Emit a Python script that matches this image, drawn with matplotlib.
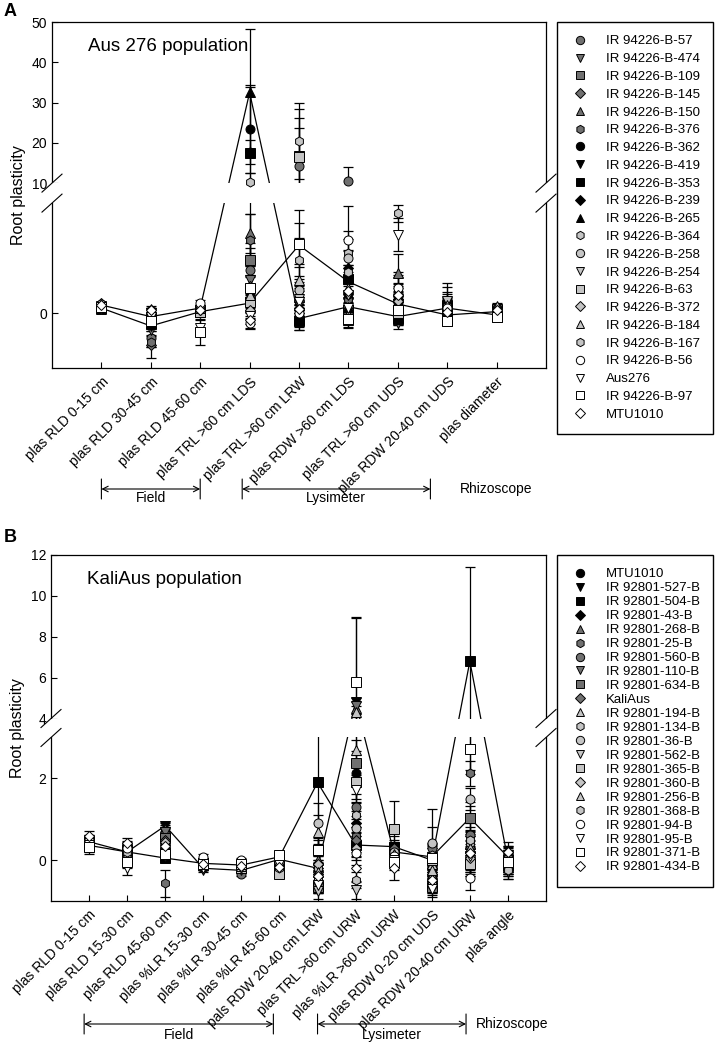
import numpy as np
import matplotlib
matplotlib.use("Agg")
import matplotlib.pyplot as plt
from matplotlib.lines import Line2D
from matplotlib.patches import Rectangle
from matplotlib.transforms import blended_transform_factory

plt.rcParams["font.family"] = ["Liberation Sans", "DejaVu Sans"]

DARK, LIGHT = "#707070", "#c4c4c4"

# ---------------- panel A : Aus 276 population ----------------
a_traits = ["plas RLD 0-15 cm", "plas RLD 30-45 cm", "plas RLD 45-60 cm",
            "plas TRL >60 cm LDS", "plas TRL >60 cm LRW", "plas RDW >60 cm LDS",
            "plas TRL >60 cm UDS", "plas RDW 20-40 cm UDS", "plas diameter"]
a_names = ["IR 94226-B-57", "IR 94226-B-474", "IR 94226-B-109", "IR 94226-B-145",
           "IR 94226-B-150", "IR 94226-B-376", "IR 94226-B-362", "IR 94226-B-419",
           "IR 94226-B-353", "IR 94226-B-239", "IR 94226-B-265", "IR 94226-B-364",
           "IR 94226-B-258", "IR 94226-B-254", "IR 94226-B-63", "IR 94226-B-372",
           "IR 94226-B-184", "IR 94226-B-167", "IR 94226-B-56", "Aus276",
           "IR 94226-B-97", "MTU1010"]
a_markers = ["o", "v", "s", "D", "^", "h", "o", "v", "s", "D", "^",
             "h", "o", "v", "s", "D", "^", "h", "o", "v", "s", "D"]
a_colors = [DARK] * 6 + ["black"] * 5 + [LIGHT] * 7 + ["white"] * 4
a_lines = ["IR 94226-B-265", "IR 94226-B-419"]

# one row per trait, one value per genotype (same order as a_names)
a_mean = [
    [0.30, 0.25, 0.20, 0.35, 0.15, 0.30, 0.25, 0.18, 0.20, 0.28, 0.29,
     0.22, 0.32, 0.18, 0.20, 0.25, 0.30, 0.27, 0.20, 0.15, 0.22, 0.30],
    [-0.90, -0.60, -0.30, -1.15, -0.20, -1.05, -0.35, -0.47, -0.40, -0.25, -0.13,
     0.10, -0.10, 0.00, -0.30, -0.20, 0.15, 0.05, 0.00, -0.15, -0.30, 0.10],
    [0.10, 0.00, 0.05, 0.10, 0.15, 0.00, 0.10, 0.05, 0.08, 0.12, 0.18,
     0.20, 0.15, 0.10, 0.05, 0.10, 0.20, 0.15, 0.36, -0.55, -0.68, 0.10],
    [1.56, 1.20, 1.93, 1.00, 2.90, 2.65, 23.5, 0.36, 17.4, 17.8, 32.5,
     0.30, 0.50, 0.20, 0.40, 0.10, 0.65, 10.3, -0.37, -0.10, 0.90, -0.25],
    [14.3, 0.30, 16.8, 0.10, 0.60, 0.00, -0.10, 2.47, -0.30, -0.25, -0.20,
     20.5, 0.84, 0.50, 16.6, 0.20, 1.20, 1.93, 0.00, 0.40, 2.50, 0.15],
    [10.4, 0.40, 0.10, 0.00, 0.30, 0.50, 0.70, 1.14, 1.25, 1.64, 0.23,
     2.20, 2.00, 0.65, -0.25, -0.10, 0.90, 1.50, 2.65, 0.20, -0.20, 0.80],
    [0.20, -0.38, 0.10, 0.00, 1.45, 0.60, 0.40, 0.33, -0.20, 0.50, -0.13,
     0.90, 0.70, 0.30, 0.00, 0.45, 0.80, 3.63, 0.90, 2.84, 0.10, 0.65],
    [0.10, -0.20, 0.30, 0.00, 0.40, 0.20, 0.35, -0.07, -0.25, 0.15, 0.18,
     0.25, 0.05, 0.45, -0.30, 0.10, 0.30, 0.00, 0.20, -0.10, -0.28, 0.05],
    [0.10, 0.00, 0.15, -0.10, 0.20, 0.05, -0.05, 0.05, -0.15, 0.10, -0.07,
     0.20, 0.15, 0.00, -0.10, 0.05, 0.25, 0.10, 0.00, -0.05, -0.15, 0.12],
]
a_err = [
    [0.08, 0.06, 0.07, 0.06, 0.08, 0.05, 0.07, 0.06, 0.05, 0.07, 0.08,
     0.06, 0.07, 0.05, 0.06, 0.07, 0.06, 0.05, 0.07, 0.06, 0.08, 0.07],
    [0.35, 0.20, 0.15, 0.50, 0.15, 0.20, 0.15, 0.18, 0.12, 0.15, 0.12,
     0.10, 0.15, 0.12, 0.15, 0.10, 0.10, 0.12, 0.15, 0.12, 0.20, 0.10],
    [0.10, 0.12, 0.08, 0.10, 0.10, 0.12, 0.08, 0.10, 0.08, 0.10, 0.12,
     0.10, 0.08, 0.10, 0.12, 0.10, 0.08, 0.10, 0.10, 0.30, 0.48, 0.10],
    [0.80, 0.50, 0.60, 0.40, 0.70, 0.95, 10.9, 0.30, 16.4, 3.0, 15.7,
     0.30, 0.40, 0.30, 0.35, 0.30, 0.40, 2.30, 0.20, 0.30, 0.40, 0.30],
    [9.40, 0.30, 9.40, 0.30, 0.40, 0.30, 0.30, 0.80, 0.30, 0.35, 0.30,
     9.50, 0.50, 0.40, 11.9, 0.30, 0.60, 0.80, 0.30, 0.40, 1.25, 0.30],
    [3.60, 0.40, 0.30, 0.30, 0.40, 0.50, 0.50, 0.60, 0.50, 0.60, 0.30,
     0.80, 0.70, 0.50, 0.30, 0.30, 0.60, 0.80, 1.25, 0.30, 0.30, 0.50],
    [0.30, 0.20, 0.30, 0.25, 0.70, 0.40, 0.30, 0.30, 0.25, 0.40, 0.30,
     0.50, 0.40, 0.30, 0.25, 0.35, 0.50, 0.30, 0.60, 0.60, 0.30, 0.40],
    [0.20, 0.15, 0.30, 0.20, 0.70, 0.25, 0.40, 0.20, 0.15, 0.30, 0.25,
     0.30, 0.20, 0.50, 0.15, 0.25, 0.40, 0.20, 0.30, 0.20, 0.15, 0.25],
    [0.10, 0.12, 0.10, 0.12, 0.10, 0.12, 0.10, 0.10, 0.12, 0.10, 0.10,
     0.10, 0.12, 0.10, 0.12, 0.10, 0.10, 0.12, 0.10, 0.10, 0.12, 0.10],
]

# ---------------- panel B : KaliAus population ----------------
b_traits = ["plas RLD 0-15 cm", "plas RLD 15-30 cm", "plas RLD 45-60 cm",
            "plas %LR 15-30 cm", "plas %LR 30-45 cm", "plas %LR 45-60 cm",
            "pals RDW 20-40 cm LRW", "plas TRL >60 cm URW", "plas %LR >60 cm URW",
            "plas RDW 0-20 cm UDS", "plas RDW 20-40 cm URW", "plas angle"]
b_names = ["MTU1010", "IR 92801-527-B", "IR 92801-504-B", "IR 92801-43-B",
           "IR 92801-268-B", "IR 92801-25-B", "IR 92801-560-B", "IR 92801-110-B",
           "IR 92801-634-B", "KaliAus", "IR 92801-194-B", "IR 92801-134-B",
           "IR 92801-36-B", "IR 92801-562-B", "IR 92801-365-B", "IR 92801-360-B",
           "IR 92801-256-B", "IR 92801-368-B", "IR 92801-94-B", "IR 92801-95-B",
           "IR 92801-371-B", "IR 92801-434-B"]
b_markers = ["o", "v", "s", "D", "^", "h", "o", "v", "s", "D", "^",
             "h", "o", "v", "s", "D", "^", "h", "o", "v", "s", "D"]
b_colors = ["black"] * 4 + [DARK] * 6 + [LIGHT] * 8 + ["white"] * 4
b_lines = ["IR 92801-527-B", "IR 92801-504-B"]

b_mean = [
    [0.50, 0.45, 0.36, 0.40, 0.48, 0.42, 0.50, 0.45, 0.38, 0.52, 0.40,
     0.44, 0.46, 0.38, 0.42, 0.50, 0.45, 0.40, 0.48, 0.36, 0.33, 0.59],
    [0.25, 0.20, 0.20, 0.15, 0.30, 0.10, 0.25, 0.05, 0.20, 0.30, 0.15,
     0.22, 0.20, 0.10, 0.25, 0.35, 0.15, 0.20, 0.30, -0.20, -0.04, 0.42],
    [0.70, 0.84, 0.05, 0.60, 0.75, -0.57, 0.66, 0.70, 0.55, 0.50, 0.40,
     0.30, 0.25, 0.20, 0.16, 0.45, 0.30, 0.20, 0.25, 0.10, 0.16, 0.35],
    [-0.10, -0.20, -0.08, -0.15, -0.05, -0.20, -0.15, -0.25, -0.10, -0.05, -0.12,
     0.00, -0.05, -0.18, -0.10, 0.00, -0.05, -0.15, 0.08, -0.20, -0.10, -0.10],
    [-0.20, -0.25, -0.12, -0.15, -0.10, -0.25, -0.33, -0.20, -0.15, -0.10, -0.20,
     -0.15, -0.05, -0.25, -0.20, -0.10, -0.15, -0.05, 0.00, -0.20, -0.10, -0.15],
    [-0.20, 0.02, 0.08, -0.10, -0.20, -0.05, -0.25, -0.30, -0.15, -0.10, -0.20,
     -0.30, -0.25, -0.20, -0.33, -0.15, -0.10, -0.20, -0.05, -0.10, 0.12, -0.16],
    [-0.55, -0.20, 1.90, -0.60, 0.00, -0.30, -0.50, -0.40, -0.65, -0.35, 0.70,
     -0.20, 0.90, -0.75, 0.25, -0.10, -0.30, -0.45, -0.50, -0.60, 0.25, -0.39],
    [2.14, 4.80, 0.37, 0.90, 4.50, 0.60, 1.31, 4.60, 2.38, 0.50, 4.30,
     1.10, 0.78, -0.74, 1.90, 0.30, 2.70, -0.49, 0.17, 1.72, 5.77, -0.20],
    [0.10, 0.20, 0.33, 0.15, 0.25, 0.05, 0.20, 0.10, 0.15, 0.30, 0.05,
     0.10, 0.20, 0.00, 0.76, 0.10, 0.15, 0.05, 0.10, 0.00, -0.04, -0.20],
    [-0.60, 0.08, 0.00, -0.50, -0.40, -0.30, 0.30, -0.55, -0.65, -0.20, -0.10,
     0.10, 0.42, -0.45, 0.00, -0.35, -0.25, 0.12, -0.60, -0.70, 0.05, -0.49],
    [0.00, 1.03, 6.80, -0.10, 0.40, 2.12, 0.62, -0.04, 1.03, 0.20, 0.30,
     0.42, 1.50, 0.00, -0.10, 0.05, 0.30, 0.50, -0.44, 0.10, 2.71, 0.17],
    [-0.20, 0.08, 0.00, -0.25, -0.10, -0.20, -0.15, -0.30, -0.10, 0.10, -0.05,
     0.05, -0.10, -0.20, 0.00, 0.10, -0.15, -0.25, 0.05, 0.10, -0.04, 0.20],
]
b_err = [
    [0.12, 0.10, 0.15, 0.10, 0.12, 0.10, 0.10, 0.12, 0.10, 0.10, 0.12,
     0.10, 0.10, 0.12, 0.10, 0.10, 0.12, 0.10, 0.10, 0.12, 0.18, 0.12],
    [0.15, 0.12, 0.15, 0.12, 0.15, 0.12, 0.12, 0.15, 0.12, 0.12, 0.15,
     0.12, 0.15, 0.12, 0.15, 0.12, 0.12, 0.15, 0.12, 0.17, 0.15, 0.12],
    [0.10, 0.08, 0.10, 0.10, 0.10, 0.33, 0.12, 0.10, 0.10, 0.12, 0.10,
     0.10, 0.12, 0.10, 0.10, 0.20, 0.10, 0.10, 0.12, 0.10, 0.10, 0.15],
    [0.06, 0.05, 0.06, 0.05, 0.06, 0.05, 0.06, 0.05, 0.06, 0.05, 0.06,
     0.05, 0.06, 0.05, 0.06, 0.05, 0.06, 0.05, 0.06, 0.05, 0.06, 0.05],
    [0.06, 0.05, 0.06, 0.05, 0.06, 0.05, 0.06, 0.05, 0.06, 0.05, 0.06,
     0.05, 0.06, 0.05, 0.06, 0.05, 0.06, 0.05, 0.06, 0.05, 0.06, 0.05],
    [0.12, 0.10, 0.10, 0.12, 0.10, 0.12, 0.10, 0.12, 0.10, 0.12, 0.10,
     0.12, 0.10, 0.12, 0.11, 0.10, 0.12, 0.10, 0.12, 0.10, 0.11, 0.12],
    [0.20, 0.30, 1.65, 0.20, 0.25, 0.20, 0.25, 0.20, 0.15, 0.25, 0.40,
     0.20, 0.50, 0.20, 0.25, 0.20, 0.20, 0.25, 0.20, 0.20, 0.30, 0.20],
    [0.30, 4.10, 0.30, 0.30, 0.30, 0.30, 0.30, 0.40, 0.30, 0.30, 0.30,
     0.30, 0.30, 0.20, 0.40, 0.30, 0.25, 0.20, 0.30, 0.30, 3.20, 0.30],
    [0.20, 0.20, 0.25, 0.20, 0.20, 0.20, 0.20, 0.20, 0.20, 0.20, 0.20,
     0.20, 0.20, 0.20, 0.68, 0.20, 0.20, 0.20, 0.20, 0.20, 0.20, 0.28],
    [0.20, 0.30, 0.30, 0.20, 0.25, 0.20, 0.50, 0.20, 0.20, 0.25, 0.30,
     0.30, 0.84, 0.20, 0.30, 0.20, 0.25, 0.30, 0.20, 0.20, 0.30, 0.20],
    [0.30, 0.40, 4.60, 0.30, 0.30, 0.30, 0.30, 0.30, 0.30, 0.30, 0.30,
     0.30, 0.27, 0.30, 0.30, 0.30, 0.30, 0.30, 0.30, 0.30, 0.60, 0.30],
    [0.20, 0.25, 0.25, 0.15, 0.20, 0.15, 0.20, 0.15, 0.20, 0.25, 0.20,
     0.20, 0.20, 0.15, 0.20, 0.20, 0.15, 0.20, 0.20, 0.25, 0.20, 0.25],
]


def broken_scale(lo, hi, k_lo, gap, k_hi):
    # piecewise linear y-scale: lower segment, a fixed gap, upper segment
    xp = [lo[0] - 1000, lo[0], lo[1], hi[0], hi[1], hi[1] + 1000]
    top = k_lo * (lo[1] - lo[0])
    fp = [-1000 * k_lo, 0, top, top + gap, top + gap + k_hi * (hi[1] - hi[0]),
          top + gap + k_hi * (hi[1] - hi[0] + 1000)]
    fwd = lambda v: np.interp(v, xp, fp)
    inv = lambda v: np.interp(v, fp, xp)
    return fwd, inv


def panel(fig, rect, traits, names, markers, colors, lines, mean, err,
          lo, hi, k_lo, gap, k_hi, yticks, title):
    ax = fig.add_axes(rect)
    fwd, inv = broken_scale(lo, hi, k_lo, gap, k_hi)
    ax.set_yscale("function", functions=(fwd, inv))
    ax.set_ylim(lo[0], hi[1])
    x = np.arange(1, len(traits) + 1)
    mean = np.array(mean)
    err = np.array(err)
    for i, name in enumerate(names):
        ax.errorbar(x, mean[:, i], yerr=err[:, i], fmt="none", ecolor="black",
                    elinewidth=0.9, capsize=3.6, capthick=0.9, zorder=2)
        if name in lines:
            ax.plot(x, mean[:, i], "-", color="black", lw=0.9, zorder=2)
        ax.plot(x, mean[:, i], ls="none", marker=markers[i], mfc=colors[i],
                mec="black", mew=0.7, ms=6.5 if markers[i] != "D" else 5.5,
                zorder=4)

    # white band hiding everything that runs through the axis break
    band = blended_transform_factory(ax.transAxes, ax.transData)
    ax.add_patch(Rectangle((-0.004, lo[1]), 1.008, hi[0] - lo[1], transform=band,
                           facecolor="white", edgecolor="none", zorder=3,
                           clip_on=False))
    total = fwd(hi[1]) - fwd(lo[0])
    w = ax.get_position().width * fig.get_figwidth() * fig.dpi
    h = ax.get_position().height * fig.get_figheight() * fig.dpi
    for edge in (lo[1], hi[0]):
        yc = (fwd(edge) - fwd(lo[0])) / total
        for xc in (0, 1):
            ax.plot([xc - 10 / w, xc + 10 / w], [yc - 9 / h, yc + 9 / h],
                    color="black", lw=0.8, transform=ax.transAxes,
                    clip_on=False, zorder=5)

    ax.set_xlim(0, len(traits) + 1)
    ax.set_xticks(x)
    ax.set_xticklabels(traits, rotation=45, ha="right", rotation_mode="anchor",
                       fontsize=10)
    ax.set_yticks(yticks)
    ax.set_yticklabels([f"{t:g}" for t in yticks], fontsize=10)
    ax.yaxis.set_minor_locator(matplotlib.ticker.NullLocator())
    ax.tick_params(axis="both", direction="in", length=4.5, width=0.8)
    ax.tick_params(axis="x", pad=5)
    for s in ax.spines.values():
        s.set_linewidth(0.9)
    ax.set_ylabel("Root plasticity", fontsize=11.5)
    ax.text(0.073, 0.93, title, transform=ax.transAxes, fontsize=13.5,
            va="center")
    return ax


def groups(ax, spans, rhizo_x, y_arrow, y_text):
    H = 1043
    for label, x0, x1 in spans:
        ax.annotate("", xy=(x1, H - y_arrow), xytext=(x0, H - y_arrow),
                    xycoords=("data", "figure pixels"),
                    arrowprops=dict(arrowstyle="<->", lw=0.8, shrinkA=0, shrinkB=0))
        for xe in (x0, x1):
            ax.annotate("", xy=(xe, H - y_arrow - 10), xytext=(xe, H - y_arrow + 10),
                        xycoords=("data", "figure pixels"),
                        arrowprops=dict(arrowstyle="-", lw=0.8, shrinkA=0, shrinkB=0))
        ax.annotate(label, xy=((x0 + x1) / 2, H - y_text),
                    xycoords=("data", "figure pixels"), ha="center", va="top",
                    fontsize=10)
    ax.annotate("Rhizoscope", xy=(rhizo_x, H - y_arrow),
                xycoords=("data", "figure pixels"), ha="center", va="center",
                fontsize=10)


def legend(fig, names, markers, colors, top, spacing):
    handles = [Line2D([], [], ls="none", marker=m, mfc=c, mec="black", mew=0.7,
                      ms=6 if m != "D" else 5) for m, c in zip(markers, colors)]
    fig.legend(handles, names, loc="upper left",
               bbox_to_anchor=(557 / 722, 1 - top / 1043), borderaxespad=0,
               frameon=True, fancybox=False, edgecolor="black", framealpha=1,
               fontsize=9.5, labelspacing=spacing, handletextpad=1.2,
               borderpad=1.0, handlelength=1.5)


fig = plt.figure(figsize=(7.22, 10.43), dpi=100)

ax_a = panel(fig, [52 / 722, 1 - 368 / 1043, 494 / 722, 346 / 1043],
             a_traits, a_names, a_markers, a_colors, a_lines, a_mean, a_err,
             (-2, 4), (10, 50), 27.5, 20, 4.03, [0, 10, 20, 30, 40, 50],
             "Aus 276 population")
groups(ax_a, [("Field", 1, 3), ("Lysimeter", 3.85, 7.66)], 9.0, 489, 491)
legend(fig, a_names, a_markers, a_colors, 22, 0.42)

ax_b = panel(fig, [51 / 722, 1 - 901 / 1043, 495 / 722, 346 / 1043],
             b_traits, b_names, b_markers, b_colors, b_lines, b_mean, b_err,
             (-1, 3), (4, 12), 41, 19, 20.5, [0, 2, 4, 6, 8, 10, 12],
             "KaliAus population")
groups(ax_b, [("Field", 0.87, 5.84), ("Lysimeter", 7.0, 10.9)], 12.1, 1024, 1028)
legend(fig, b_names, b_markers, b_colors, 555, 0.13)

fig.text(4 / 722, 1 - 12 / 1043, "A", fontsize=13, fontweight="bold", va="center")
fig.text(4 / 722, 1 - 537 / 1043, "B", fontsize=13, fontweight="bold", va="center")

fig.savefig("out.png", dpi=100)
